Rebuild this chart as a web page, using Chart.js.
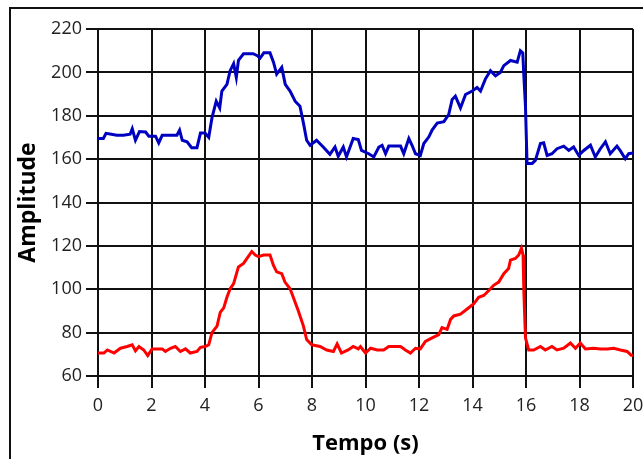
<!DOCTYPE html>
<html>
<head>
<meta charset="utf-8">
<script src="https://cdn.jsdelivr.net/npm/chart.js@4/dist/chart.umd.min.js"></script>
<style>
  html, body { margin: 0; padding: 0; background: #fff; }
  #wrap { position: relative; width: 643px; height: 459px; overflow: hidden; }
  #frame { position: absolute; left: 9px; top: 7px; width: 700px; height: 500px;
           border-top: 2px solid #111; border-left: 2px solid #111; box-sizing: border-box; pointer-events: none; }
  canvas { position: absolute; left: 0; top: 0; }
</style>
</head>
<body>
<div id="wrap">
  <canvas id="c" width="643" height="459"></canvas>
  <div id="frame"></div>
</div>
<script>
// Time ticks (s) and amplitude ticks
const xTicks = [0, 2, 4, 6, 8, 10, 12, 14, 16, 18, 20];
const yTicks = [60, 80, 100, 120, 140, 160, 180, 200, 220];

// Blue series
const blueT = [0, 0.2, 0.3, 0.5, 0.7, 0.95, 1.2, 1.28, 1.4, 1.55, 1.78, 1.9, 2.15, 2.27, 2.4, 2.95, 3.05, 3.15, 3.33, 3.5, 3.7, 3.83, 4.0, 4.14, 4.26, 4.42, 4.55, 4.63, 4.82, 4.94, 5.07, 5.17, 5.25, 5.44, 5.8, 5.94, 6.06, 6.2, 6.43, 6.56, 6.68, 6.87, 7.0, 7.18, 7.37, 7.55, 7.68, 7.8, 7.93, 8.17, 8.42, 8.67, 8.86, 8.98, 9.17, 9.29, 9.54, 9.73, 9.85, 10.12, 10.31, 10.5, 10.62, 10.75, 10.87, 11.31, 11.43, 11.62, 11.74, 11.87, 12.05, 12.18, 12.37, 12.49, 12.68, 12.93, 13.11, 13.24, 13.36, 13.55, 13.74, 13.99, 14.17, 14.3, 14.48, 14.67, 14.86, 15.04, 15.17, 15.42, 15.67, 15.79, 15.88, 15.92, 15.98, 16.04, 16.23, 16.35, 16.54, 16.66, 16.79, 16.97, 17.16, 17.41, 17.6, 17.78, 17.97, 18.16, 18.41, 18.59, 18.78, 18.97, 19.15, 19.4, 19.53, 19.71, 19.84, 20];
const blueV = [169.5, 169.5, 171.9, 171.5, 171, 171, 171.5, 174, 168.7, 172.7, 172.5, 170.6, 170.6, 167.5, 171, 171, 173.4, 168.7, 168, 165.3, 165.3, 172, 172, 170, 179, 186.7, 183.6, 191.4, 194.5, 200.8, 204, 197.7, 205.5, 208.6, 208.6, 207.8, 206.6, 209, 209, 204.7, 199.2, 202.3, 194.5, 191.4, 186.7, 184.4, 176.6, 168.7, 166.4, 168.7, 165.6, 162.2, 165.6, 161.3, 165.6, 161, 169.5, 169, 164, 162.5, 161, 165.6, 166.4, 162.5, 166, 166, 162.5, 169.5, 166.4, 162.5, 161.7, 167.2, 170.3, 173.4, 176.6, 177.3, 180.5, 187.5, 189, 183.6, 189.8, 191.4, 193, 191.4, 196.9, 200.8, 198.4, 200, 203.1, 205.5, 204.7, 210, 209, 198.4, 184.4, 158, 158, 159.4, 167.2, 167.5, 161.7, 162.5, 164.8, 166, 164, 165.6, 161.7, 164, 166.4, 161, 164.8, 168, 162.5, 166, 163.8, 160.2, 162.5, 162.8];

// Red series
const redT = [0, 0.22, 0.35, 0.6, 0.84, 1.09, 1.28, 1.4, 1.53, 1.71, 1.86, 2.02, 2.4, 2.52, 2.71, 2.89, 3.08, 3.27, 3.45, 3.7, 3.83, 4.01, 4.14, 4.26, 4.45, 4.57, 4.7, 4.82, 4.94, 5.07, 5.25, 5.44, 5.57, 5.75, 5.88, 6.0, 6.19, 6.43, 6.56, 6.68, 6.87, 6.99, 7.18, 7.3, 7.49, 7.68, 7.8, 7.99, 8.3, 8.55, 8.8, 8.94, 9.1, 9.35, 9.54, 9.73, 9.81, 10.0, 10.19, 10.44, 10.68, 10.87, 11.31, 11.49, 11.68, 11.87, 12.05, 12.24, 12.49, 12.74, 12.86, 13.05, 13.18, 13.3, 13.55, 13.8, 14.05, 14.23, 14.42, 14.61, 14.79, 14.98, 15.17, 15.35, 15.42, 15.6, 15.73, 15.83, 15.89, 15.92, 15.98, 16.1, 16.29, 16.54, 16.72, 16.97, 17.16, 17.41, 17.66, 17.85, 18.03, 18.22, 18.53, 18.78, 19.03, 19.28, 19.53, 19.78, 19.93, 20];
const redV = [70.6, 70.6, 72, 70.6, 72.8, 73.6, 74.4, 71.6, 73.6, 72, 69.4, 72.5, 72.5, 71.3, 72.8, 73.6, 71.3, 72.5, 70.6, 71.3, 73.2, 73.6, 74.4, 80, 83, 89.3, 91.4, 96.3, 100.2, 102.6, 110.3, 111.9, 114.2, 117.4, 115.8, 115, 115.8, 115.8, 111, 108, 107.2, 103.3, 100.2, 96.3, 90, 83, 76.8, 74.4, 73.6, 72, 71.3, 74.8, 70.6, 72, 73.6, 72.5, 73.6, 70.6, 72.8, 72, 72, 73.6, 73.6, 72, 70.6, 72.8, 72.5, 76, 77.6, 79.1, 82.3, 81.5, 86.1, 87.7, 88.5, 90.9, 93.3, 96.3, 97.1, 99.4, 101.8, 103.3, 107.2, 109.6, 113.4, 114.2, 115.8, 118.9, 115.8, 98.9, 77.6, 72, 72, 73.6, 72, 73.6, 72, 72.8, 75.2, 72.8, 75.2, 72.5, 72.8, 72.5, 72.5, 72.8, 72, 71.3, 69.6, 69.6];

const toPts = (t, v) => t.map((x, i) => ({ x: x, y: v[i] }));

const tickFont = { family: "'Open Sans', 'Noto Sans', sans-serif", size: 18 };
const titleFont = { family: "'Open Sans', 'Noto Sans', sans-serif", size: 22, weight: 'bold' };
const yTitleFont = { family: "'Open Sans', 'Noto Sans', sans-serif", size: 23, weight: 'bold' };

new Chart(document.getElementById('c'), {
  type: 'line',
  data: {
    datasets: [
      { label: 'Blue', data: toPts(blueT, blueV), borderColor: '#0000C0', borderWidth: 3, pointRadius: 0, tension: 0, fill: false },
      { label: 'Red', data: toPts(redT, redV), borderColor: '#FF0000', borderWidth: 3, pointRadius: 0, tension: 0, fill: false }
    ]
  },
  options: {
    responsive: false,
    animation: false,
    events: [],
    layout: { padding: { left: 0, top: 29, right: 10, bottom: 0 } },
    plugins: { legend: { display: false }, tooltip: { enabled: false } },
    scales: {
      x: {
        type: 'linear',
        min: 0, max: 20,
        afterBuildTicks: (s) => { s.ticks = xTicks.map(v => ({ value: v })); },
        afterFit: (s) => { s.height = 83; s.paddingRight = 0; s.paddingLeft = 0; },
        grid: { color: '#111', lineWidth: 2, tickLength: 12, drawTicks: true },
        border: { color: '#111', width: 2 },
        ticks: { font: tickFont, color: '#222', padding: 7, maxRotation: 0, autoSkip: false },
        title: { display: true, text: 'Tempo (s)', font: titleFont, color: '#000', padding: { top: 0, bottom: 2 } }
      },
      y: {
        type: 'linear',
        min: 60, max: 220,
        afterBuildTicks: (s) => { s.ticks = yTicks.map(v => ({ value: v })); },
        afterFit: (s) => { s.width = 98; s.paddingTop = 0; s.paddingBottom = 0; },
        grid: { color: '#111', lineWidth: 2, tickLength: 12, drawTicks: true },
        border: { color: '#111', width: 2 },
        ticks: { font: tickFont, color: '#222', padding: 4, autoSkip: false },
        title: { display: true, text: 'Amplitude', font: yTitleFont, color: '#000', padding: { top: 15, bottom: 0 } }
      }
    }
  }
});
</script>
</body>
</html>
